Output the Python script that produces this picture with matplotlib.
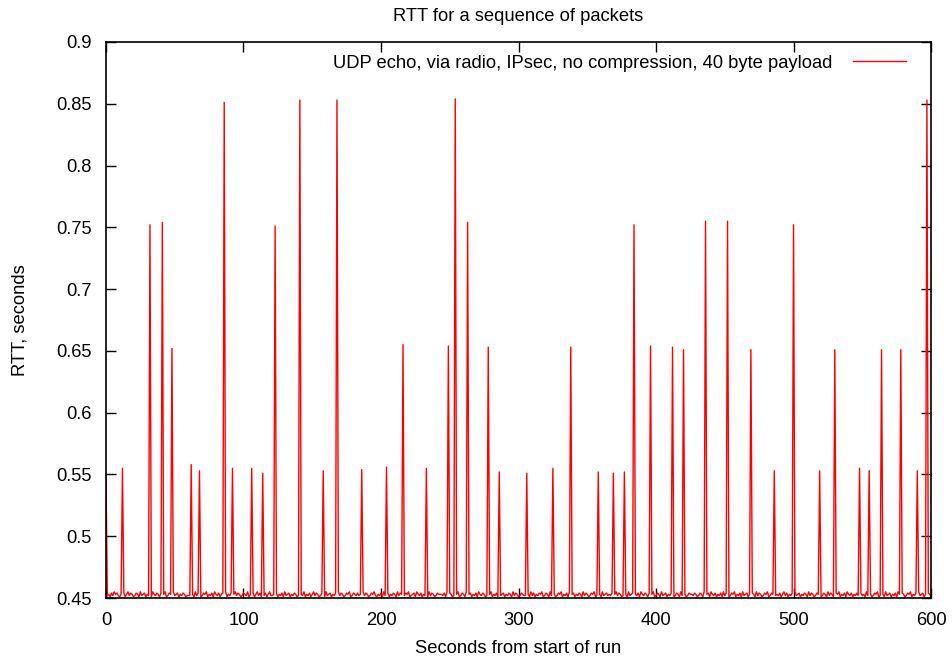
import numpy as np
import matplotlib
matplotlib.use("Agg")
from matplotlib import pyplot as plt

# one sample per second, 0..600
seconds = np.arange(0, 601)

# baseline jitter, milliseconds above 0.450 s
baseline_ms = (
    "3231425342132413524312431523413241532431423512431523413243122"
    "2431524312435132415324134251324135243124325132413524132413522"
    "3241324152341324312432513241352431243152341324152431243512432"
    "4231524312435213241523413243152431243512341532413241524312433"
    "3241524312435124315234132415324312435132415234132431524312432"
    "2431524132435124315243124351324152341324315243124351243152342"
    "3241352431243152341324153243142351243152341324312431524312433"
    "2431243152341532413241524312435132415234132431524312435124312"
    "3241352413241523413243152431243512431524312435132415324132423"
    "4231524312435124315234132415324312435132415234132431524312432"
    "3241524312435124315234132415324312435132415234132431524312433"
)

# spikes: second -> RTT (s)
spike_t = [0, 12, 32, 41, 48, 62, 68, 86, 92, 106, 114, 123, 141, 158, 168,
           186, 204, 216, 233, 249, 254, 263, 278, 286, 306, 325, 338, 358,
           369, 377, 384, 396, 412, 420, 436, 452, 469, 486, 500, 519, 530,
           548, 555, 564, 578, 590, 597]
spike_rtt = [0.551, 0.555, 0.752, 0.754, 0.652, 0.558, 0.553, 0.851, 0.555,
             0.555, 0.551, 0.751, 0.853, 0.553, 0.853, 0.554, 0.556, 0.655,
             0.555, 0.654, 0.854, 0.754, 0.653, 0.552, 0.551, 0.555, 0.653,
             0.552, 0.551, 0.552, 0.752, 0.654, 0.653, 0.651, 0.755, 0.755,
             0.651, 0.553, 0.752, 0.553, 0.651, 0.555, 0.553, 0.651, 0.651,
             0.553, 0.853]

rtt = 0.450 + np.array([int(c) for c in baseline_ms[:len(seconds)]]) / 1000.0
for t, v in zip(spike_t, spike_rtt):
    rtt[t] = v

plt.rcParams['font.family'] = ['Liberation Sans', 'DejaVu Sans']
fs = 13.2

fig = plt.figure(figsize=(9.52, 6.6), dpi=100)
ax = fig.add_axes([0.1113, 0.0939, 0.8667, 0.8425])

ax.plot(seconds, rtt, color='red', lw=1.0,
        label='UDP echo, via radio, IPsec, no compression, 40 byte payload')

ax.set_xlim(0, 600)
ax.set_ylim(0.45, 0.9)
ax.set_xticks(np.arange(0, 601, 100))
ax.set_yticks(np.arange(0.45, 0.901, 0.05))
ax.set_yticklabels(['0.45', '0.5', '0.55', '0.6', '0.65', '0.7', '0.75',
                    '0.8', '0.85', '0.9'])
ax.tick_params(direction='in', top=True, right=True, length=7, width=1,
               labelsize=fs, pad=10)
for s in ax.spines.values():
    s.set_linewidth(1.2)

ax.set_title('RTT for a sequence of packets', fontsize=fs, pad=15)
ax.set_xlabel('Seconds from start of run', fontsize=fs, labelpad=8)
ax.set_ylabel('RTT, seconds', fontsize=fs, labelpad=20)

ax.legend(loc='upper right', frameon=False, markerfirst=False,
          fontsize=fs, handlelength=2.9, handletextpad=1.1,
          borderaxespad=0.3, bbox_to_anchor=(0.985, 1.0))

fig.savefig('out.png', dpi=100)
